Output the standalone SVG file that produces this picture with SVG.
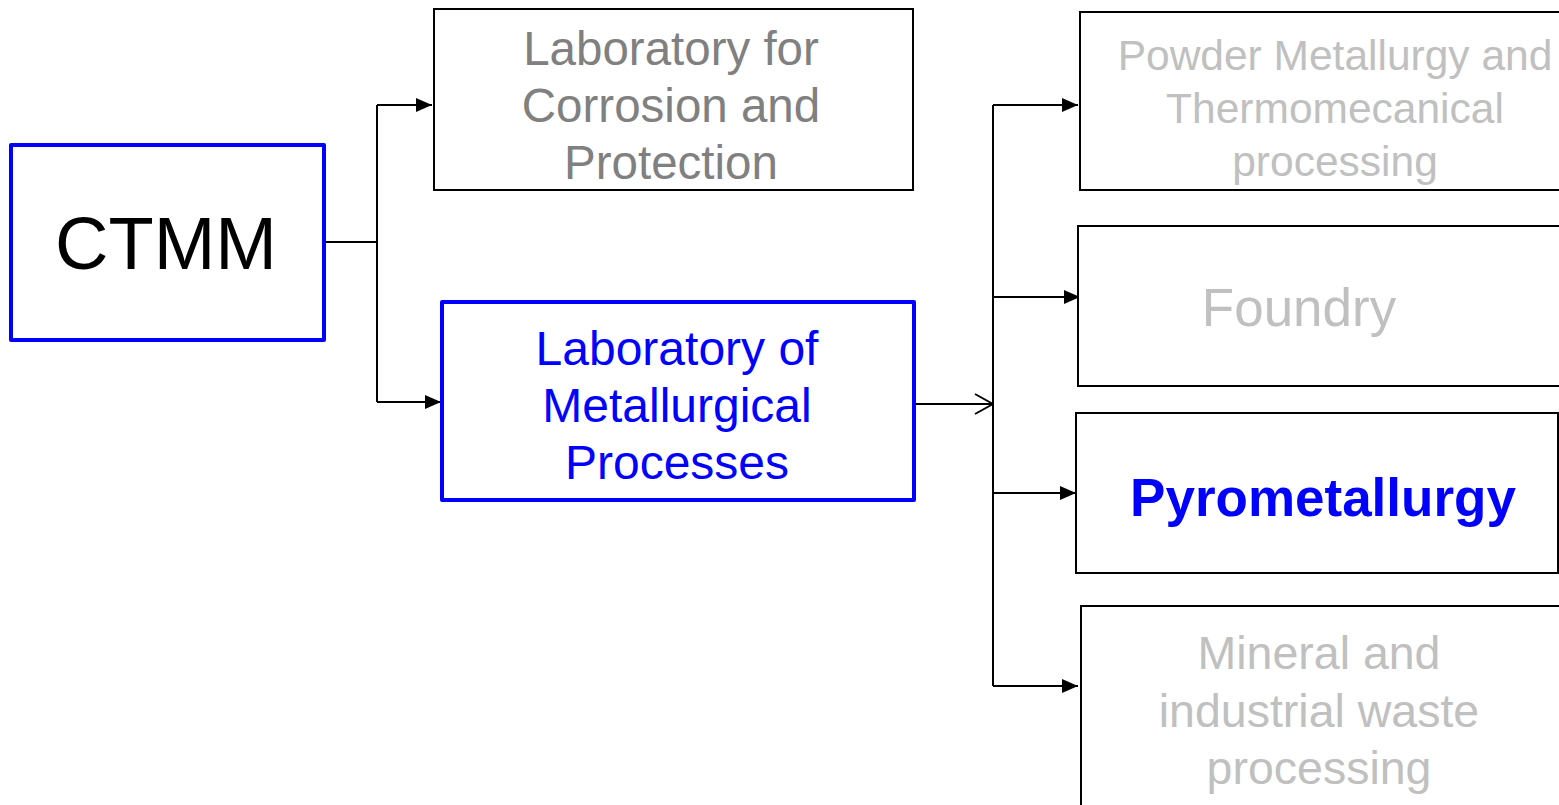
<svg xmlns="http://www.w3.org/2000/svg" width="1559" height="805" viewBox="0 0 1559 805">
<defs>
<style>
.t{font-family:"Liberation Sans",Arial,sans-serif;text-anchor:middle}
.thin{fill:#fff;stroke:#000;stroke-width:2}
.blue{fill:#fff;stroke:#0000ff;stroke-width:4;stroke-linejoin:round}
.c{fill:none;stroke:#000;stroke-width:2}
</style>
<marker id="ah" markerWidth="16" markerHeight="14" refX="16" refY="7" orient="auto" markerUnits="userSpaceOnUse">
<path d="M0,0 L16,7 L0,14 Z" fill="#000"/>
</marker>
<marker id="oa" markerWidth="20" markerHeight="22" refX="19" refY="11" orient="auto" markerUnits="userSpaceOnUse">
<path d="M1,1 L19,11 L1,21" fill="none" stroke="#000" stroke-width="2"/>
</marker>
</defs>
<rect width="1559" height="805" fill="#fff"/>
<g id="connectors">
<path class="c" d="M324,242 H377"/>
<path class="c" d="M377,402 V105"/>
<path class="c" d="M377,105 H432" marker-end="url(#ah)"/>
<path class="c" d="M377,402 H441" marker-end="url(#ah)"/>
<path class="c" d="M914,404 H993" marker-end="url(#oa)"/>
<path class="c" d="M993,105 V686"/>
<path class="c" d="M993,105 H1078" marker-end="url(#ah)"/>
<path class="c" d="M993,297 H1080" marker-end="url(#ah)"/>
<path class="c" d="M993,493 H1076" marker-end="url(#ah)"/>
<path class="c" d="M993,686 H1078" marker-end="url(#ah)"/>
</g>
<g id="ctmm">
<rect class="blue" x="11" y="145" width="313" height="195"/>
<text class="t" x="166" y="269" font-size="74" fill="#000">CTMM</text>
</g>
<g id="corrosion">
<rect class="thin" x="434" y="9" width="479" height="181"/>
<text class="t" font-size="47.5" fill="#808080"><tspan x="671" y="65">Laboratory for</tspan><tspan x="671" y="122">Corrosion and</tspan><tspan x="671" y="179">Protection</tspan></text>
</g>
<g id="metallurgical">
<rect class="blue" x="442" y="302" width="472" height="198"/>
<text class="t" font-size="48" fill="#0000ff"><tspan x="677" y="365">Laboratory of</tspan><tspan x="677" y="422">Metallurgical</tspan><tspan x="677" y="479">Processes</tspan></text>
</g>
<g id="powder">
<rect class="thin" x="1080" y="12" width="490" height="178"/>
<text class="t" font-size="42.5" fill="#c0c0c0"><tspan x="1335" y="70">Powder Metallurgy and</tspan><tspan x="1335" y="123">Thermomecanical</tspan><tspan x="1335" y="176">processing</tspan></text>
</g>
<g id="foundry">
<rect class="thin" x="1078" y="226" width="490" height="160"/>
<text class="t" x="1299" y="326" font-size="53" fill="#c0c0c0">Foundry</text>
</g>
<g id="pyro">
<rect class="thin" x="1076" y="413" width="482" height="160"/>
<text class="t" x="1323" y="516" font-size="53" font-weight="bold" fill="#0000ff">Pyrometallurgy</text>
</g>
<g id="mineral">
<rect class="thin" x="1081" y="606" width="490" height="220"/>
<text class="t" font-size="46.5" fill="#c0c0c0"><tspan x="1319" y="669">Mineral and</tspan><tspan x="1319" y="727">industrial waste</tspan><tspan x="1319" y="784">processing</tspan></text>
</g>
</svg>
